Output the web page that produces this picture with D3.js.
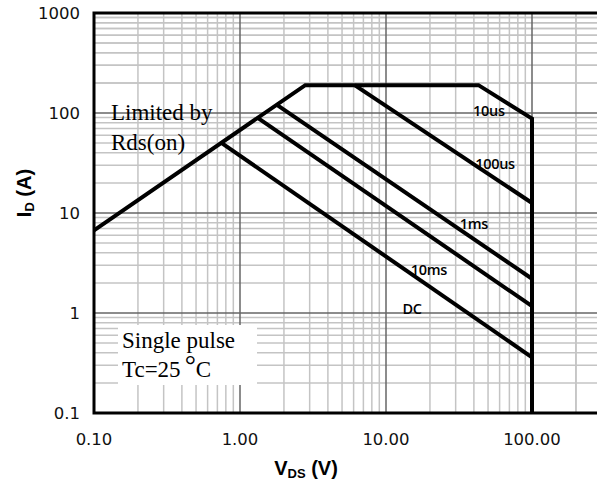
<!DOCTYPE html>
<html><head><meta charset="utf-8">
<script src="https://cdn.jsdelivr.net/npm/d3@7"></script>
<style>html,body{margin:0;padding:0;background:#fff;overflow:hidden}</style>
</head><body>
<svg id="c" width="597" height="487"></svg>
<script>
// ---- data ----
const xTickValues = [0.1, 1, 10, 100];
const xTickLabels = ["0.10", "1.00", "10.00", "100.00"];
const yTickValues = [0.1, 1, 10, 100, 1000];
const yTickLabels = ["0.1", "1", "10", "100", "1000"];

const rdsLimit   = [[0.1, 6.7], [2.8, 190]];
const pulse10us  = [[2.8, 190], [43, 190], [100, 88]];
const vdsMax     = [[100, 88], [100, 0.1]];
const pulse100us = [[6.1, 190], [100, 12.6]];
const pulse1ms   = [[1.8, 120], [100, 2.2]];
const pulse10ms  = [[1.33, 89], [100, 1.17]];
const dcLine     = [[0.75, 50], [100, 0.36]];

const curveLabels = ["10us", "100us", "1ms", "10ms", "DC"];
const curveLabelPos = [[50.7, 107], [55.8, 31.6], [40, 7.8], [19.7, 2.75], [15.1, 1.12]];

// ---- drawing ----
const svg = d3.select("#c");
const x = d3.scaleLog().domain([0.1, 1000]).range([94, 678]);
const y = d3.scaleLog().domain([0.1, 1000]).range([413, 13]);
const X0 = x(0.1), X1 = 620, Y0 = y(0.1), Y1 = y(1000);

const g = svg.append("g");
// minor grid
const minors = [];
[0.1, 1, 10, 100].forEach(d => { for (let k = 2; k <= 9; k++) minors.push(+(k * d).toPrecision(3)); });
g.selectAll(".vx").data(minors.concat([200, 300])).enter().append("line")
  .attr("x1", d => x(d)).attr("x2", d => x(d)).attr("y1", Y1).attr("y2", Y0)
  .attr("stroke", "#c4c4c4").attr("stroke-width", 1.5);
g.selectAll(".hy").data(minors.concat([200,300,400,500,600,700,800,900])).enter().append("line")
  .attr("x1", X0).attr("x2", X1).attr("y1", d => y(d)).attr("y2", d => y(d))
  .attr("stroke", "#c4c4c4").attr("stroke-width", 1.5);
// major grid
g.selectAll(".mx").data([1, 10, 100]).enter().append("line")
  .attr("x1", d => x(d)).attr("x2", d => x(d)).attr("y1", Y1).attr("y2", Y0)
  .attr("stroke", "#666").attr("stroke-width", 1.5);
g.selectAll(".my").data([1, 10, 100]).enter().append("line")
  .attr("x1", X0).attr("x2", X1).attr("y1", d => y(d)).attr("y2", d => y(d))
  .attr("stroke", "#666").attr("stroke-width", 1.5);

// text box
svg.append("rect").attr("x", 118).attr("y", 325).attr("width", 139).attr("height", 60).attr("fill", "#fff");

// border
svg.append("path").attr("d", `M${X1},${Y1}H${X0}V${Y0}H${X1}`)
  .attr("fill", "none").attr("stroke", "#000").attr("stroke-width", 3);

// curves
const line = d3.line().x(d => x(d[0])).y(d => y(d[1]));
[rdsLimit.concat(pulse10us.slice(1), vdsMax.slice(1)), pulse100us, pulse1ms, pulse10ms, dcLine].forEach(pts => {
  svg.append("path").attr("d", line(pts)).attr("fill", "none")
    .attr("stroke", "#000").attr("stroke-width", 4).attr("stroke-linejoin", "miter");
});

// curve labels
svg.selectAll(".cl").data(curveLabels).enter().append("text")
  .attr("x", (d, i) => x(curveLabelPos[i][0])).attr("y", (d, i) => y(curveLabelPos[i][1]))
  .attr("text-anchor", "middle").attr("dominant-baseline", "central")
  .attr("font-family", "Open Sans").attr("font-weight", 600).attr("font-size", 14.5)
  .attr("letter-spacing", -0.3)
  .text(d => d);

// annotations
const serif = "Liberation Serif";
svg.append("text").attr("x", 111).attr("y", 120).attr("font-family", serif).attr("font-size", 23).text("Limited by");
svg.append("text").attr("x", 111).attr("y", 150).attr("font-family", serif).attr("font-size", 23).text("Rds(on)");
svg.append("text").attr("x", 122).attr("y", 348).attr("font-family", serif).attr("font-size", 23).text("Single pulse");
const tc = svg.append("text").attr("x", 122).attr("y", 377).attr("font-family", serif).attr("font-size", 23);
tc.append("tspan").text("Tc=25");
tc.append("tspan").attr("dy", -3).attr("dx", 4).attr("font-size", 28).text("°");
tc.append("tspan").attr("dy", 3).attr("dx", 0).text("C");

// tick labels
svg.selectAll(".xt").data(xTickValues).enter().append("text")
  .attr("x", d => x(d)).attr("y", 445).attr("text-anchor", "middle")
  .attr("font-family", "DejaVu Sans").attr("font-size", 16.5).attr("fill", "#111")
  .text((d, i) => xTickLabels[i]);
svg.selectAll(".yt").data(yTickValues).enter().append("text")
  .attr("x", 80).attr("y", d => y(d) + 6).attr("text-anchor", "end")
  .attr("font-family", "DejaVu Sans").attr("font-size", 16.5).attr("fill", "#111")
  .text((d, i) => yTickLabels[i]);

// axis titles
const xt = svg.append("text").attr("x", 306).attr("y", 475).attr("text-anchor", "middle")
  .attr("font-family", "Liberation Sans").attr("font-weight", "bold").attr("font-size", 20);
xt.append("tspan").text("V");
xt.append("tspan").attr("font-size", 13).attr("dy", 3).text("DS");
xt.append("tspan").attr("dy", -3).text(" (V)");
const yt = svg.append("text").attr("transform", "translate(31,193) rotate(-90)").attr("text-anchor", "middle")
  .attr("font-family", "Liberation Sans").attr("font-weight", "bold").attr("font-size", 20);
yt.append("tspan").text("I");
yt.append("tspan").attr("font-size", 13).attr("dy", 3).text("D");
yt.append("tspan").attr("dy", -3).text(" (A)");
</script>
</body></html>
